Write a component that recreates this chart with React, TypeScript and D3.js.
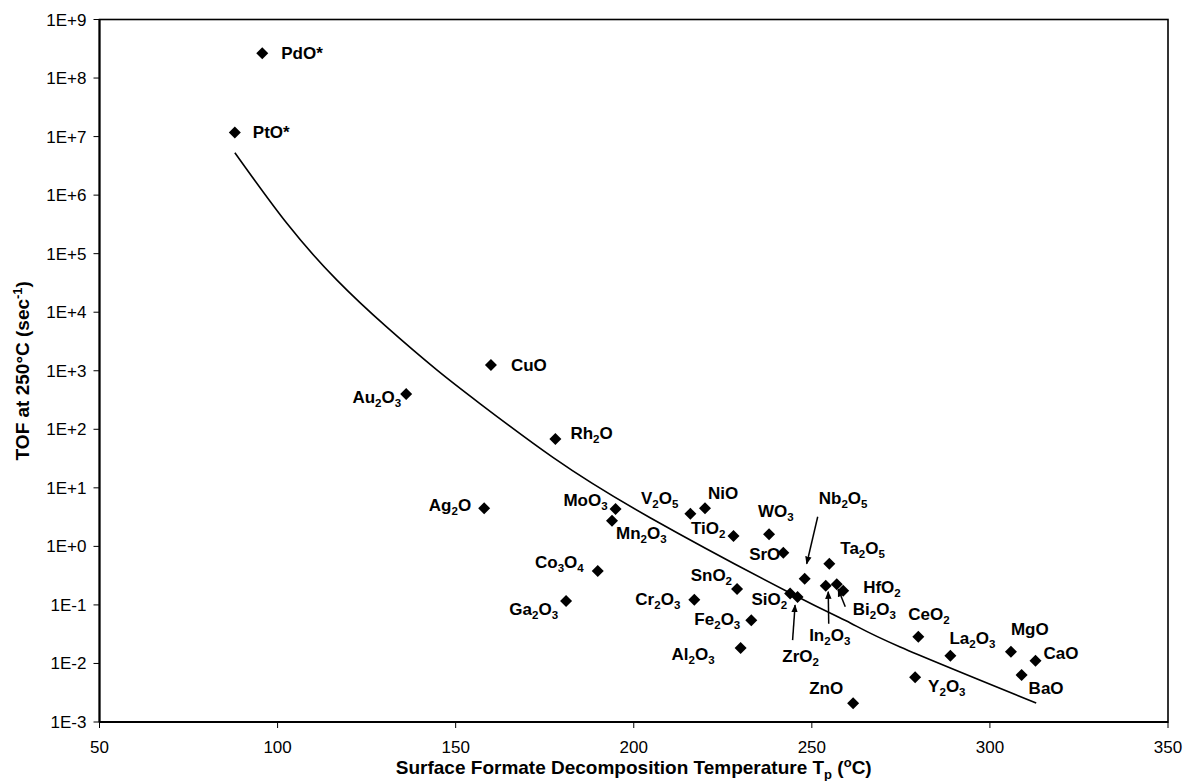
import React from "react";
import * as d3 from "d3";

// ---- data ----
const oxides = [
  "PdO*", "PtO*", "CuO", "Au_2O_3", "Rh_2O", "Ag_2O", "MoO_3", "Mn_2O_3", "Co_3O_4", "Ga_2O_3",
  "V_2O_5", "NiO", "TiO_2", "WO_3", "SrO", "Ta_2O_5", "Nb_2O_5", "SnO_2", "Cr_2O_3", "SiO_2",
  "ZrO_2", "In_2O_3", "Bi_2O_3", "HfO_2", "Fe_2O_3", "Al_2O_3", "CeO_2", "La_2O_3", "MgO", "CaO",
  "BaO", "Y_2O_3", "ZnO",
];
const tempTp = [
  95.7, 88.0, 159.9, 136.1, 178.0, 158.0, 194.9, 193.9, 189.9, 181.0,
  215.9, 220.0, 228.0, 238.0, 242.0, 254.9, 248.0, 229.0, 217.0, 243.9,
  246.0, 253.9, 257.0, 258.8, 233.0, 230.0, 279.9, 288.9, 305.9, 312.8,
  308.9, 279.0, 261.6,
];
const tof = [
  2.65e8, 1.18e7, 1250, 400, 68, 4.5, 4.35, 2.75, 0.38, 0.117,
  3.6, 4.48, 1.5, 1.61, 0.78, 0.506, 0.28, 0.187, 0.123, 0.156,
  0.136, 0.213, 0.225, 0.175, 0.0546, 0.0184, 0.0286, 0.0136, 0.0159, 0.0111,
  0.00635, 0.0058, 0.0021,
];
// trend line, points
const trendTemp = [88.0, 102.6, 116.6, 130.6, 144.7, 156.8, 177.3, 204.6, 243.9, 260.8, 274.8, 313.0];
const trendTof = [5.31e6, 3.3e5, 3.56e4, 5600, 1033, 275, 33.1, 3.09, 0.16, 0.0491, 0.0191, 0.00211];

const xTicks = [50, 100, 150, 200, 250, 300, 350];
const yTickExp = [9, 8, 7, 6, 5, 4, 3, 2, 1, 0, -1, -2, -3];

// ---- label layout (pixel offsets from each marker) ----
type Lay = { dx: number; dy: number; a: "start" | "end" | "middle"; arrow?: [number, number, number, number] };
const layout: Record<string, Lay> = {
  "PdO*": { dx: 19, dy: 0, a: "start" },
  "PtO*": { dx: 18, dy: 0, a: "start" },
  "CuO": { dx: 20, dy: 0, a: "start" },
  "Au_2O_3": { dx: -5, dy: 3, a: "end" },
  "Rh_2O": { dx: 15, dy: -6, a: "start" },
  "Ag_2O": { dx: -13, dy: -3, a: "end" },
  "MoO_3": { dx: -8, dy: -9, a: "end" },
  "Mn_2O_3": { dx: 4, dy: 12, a: "start" },
  "Co_3O_4": { dx: -14, dy: -9, a: "end" },
  "Ga_2O_3": { dx: -8, dy: 8, a: "end" },
  "V_2O_5": { dx: -12, dy: -16, a: "end" },
  "NiO": { dx: 3, dy: -15, a: "start" },
  "TiO_2": { dx: -8, dy: -8, a: "end" },
  "WO_3": { dx: -11, dy: -23, a: "start" },
  "SrO": { dx: -3, dy: 1, a: "end" },
  "Ta_2O_5": { dx: 11, dy: -16, a: "start" },
  "Nb_2O_5": { dx: 14, dy: -81, a: "start", arrow: [13, -62, 2, -15] },
  "SnO_2": { dx: -5, dy: -14, a: "end" },
  "Cr_2O_3": { dx: -14, dy: -1, a: "end" },
  "SiO_2": { dx: -3, dy: 5, a: "end" },
  "ZrO_2": { dx: 3, dy: 59, a: "middle", arrow: [-5, 43, -2.5, 8] },
  "In_2O_3": { dx: 4, dy: 49, a: "middle", arrow: [3, 38, 2.5, 6] },
  "Bi_2O_3": { dx: 16, dy: 25, a: "start", arrow: [8.5, 22.5, 1.5, 5] },
  "HfO_2": { dx: 20, dy: -4, a: "start" },
  "Fe_2O_3": { dx: -11, dy: -1, a: "end" },
  "Al_2O_3": { dx: -26, dy: 6, a: "end" },
  "CeO_2": { dx: -10, dy: -23, a: "start" },
  "La_2O_3": { dx: -1, dy: -18, a: "start" },
  "MgO": { dx: 0, dy: -23, a: "start" },
  "CaO": { dx: 8, dy: -8, a: "start" },
  "BaO": { dx: 7, dy: 13, a: "start" },
  "Y_2O_3": { dx: 13, dy: 9, a: "start" },
  "ZnO": { dx: -10, dy: -15, a: "end" },
};

const FONT = "'Liberation Sans', Arial, Helvetica, sans-serif";
const W = 1185;
const H = 781;
const m = { left: 99.5, right: 1168, top: 19.5, bottom: 722 };

function Chem({ s, size }: { s: string; size: number }) {
  const parts: React.ReactNode[] = [];
  let buf = "";
  let sub = false;
  let key = 0;
  const sh = Math.round(size * 0.25);
  for (let i = 0; i < s.length; i++) {
    if (s[i] === "_") {
      if (buf) {
        parts.push(
          <tspan key={key++} dy={sub ? -sh : 0}>
            {buf}
          </tspan>
        );
        buf = "";
        sub = false;
      }
      parts.push(
        <tspan key={key++} dy={sh} fontSize={size * 0.68}>
          {s[i + 1]}
        </tspan>
      );
      sub = true;
      i++;
    } else {
      buf += s[i];
    }
  }
  if (buf) {
    parts.push(
      <tspan key={key++} dy={sub ? -sh : 0}>
        {buf}
      </tspan>
    );
  }
  return <>{parts}</>;
}

export default function App() {
  const x = d3.scaleLinear().domain([50, 350]).range([m.left, m.right]);
  const y = d3.scaleLog().domain([1e-3, 1e9]).range([m.bottom, m.top]);

  const line = d3
    .line<number>()
    .x((_, i) => x(trendTemp[i]))
    .y((v) => y(v))
    .curve(d3.curveNatural);

  const diamond = "M0,-6L6,0L0,6L-6,0Z";
  const fs = 17;

  return (
    <svg width={W} height={H} style={{ position: "absolute", left: 0, top: 0, background: "#fff" }} fontFamily={FONT}>
      <defs>
        <marker id="ah" viewBox="0 0 10 10" refX="9" refY="5" markerWidth="8" markerHeight="8" orient="auto" markerUnits="userSpaceOnUse">
          <path d="M0,1L10,5L0,9Z" fill="#000" />
        </marker>
      </defs>
      <rect x={0} y={0} width={W} height={H} fill="#fff" />

      {/* frame */}
      <rect x={m.left} y={m.top} width={m.right - m.left} height={m.bottom - m.top} fill="none" stroke="#000" strokeWidth={1.6} />
      <line x1={m.left} x2={m.left} y1={m.top} y2={m.bottom} stroke="#000" strokeWidth={2} />
      <line x1={m.left} x2={m.right} y1={m.bottom} y2={m.bottom} stroke="#000" strokeWidth={2} />

      {/* y ticks */}
      {yTickExp.map((e) => {
        const yy = y(Math.pow(10, e));
        const lab = e >= 0 ? `1E+${e}` : `1E${e}`;
        return (
          <g key={e}>
            <line x1={m.left - 6} x2={m.left} y1={yy} y2={yy} stroke="#000" strokeWidth={1} />
            <text x={m.left - 13} y={yy + 6} textAnchor="end" fontSize={fs}>
              {lab}
            </text>
          </g>
        );
      })}

      {/* x ticks */}
      {xTicks.map((t) => (
        <g key={t}>
          <line x1={x(t)} x2={x(t)} y1={m.bottom} y2={m.bottom + 6} stroke="#000" strokeWidth={1} />
          <text x={x(t)} y={m.bottom + 31} textAnchor="middle" fontSize={fs}>
            {t}
          </text>
        </g>
      ))}

      {/* trend line */}
      <path d={line(trendTof) || ""} fill="none" stroke="#000" strokeWidth={1.6} />

      {/* markers */}
      {oxides.map((n, i) => (
        <path key={n} d={diamond} transform={`translate(${x(tempTp[i])},${y(tof[i])})`} fill="#000" />
      ))}

      {/* arrows */}
      {oxides.map((n, i) => {
        const L = layout[n];
        if (!L || !L.arrow) return null;
        const px = x(tempTp[i]);
        const py = y(tof[i]);
        const [ax1, ay1, ax2, ay2] = L.arrow;
        return (
          <line key={"a" + n} x1={px + ax1} y1={py + ay1} x2={px + ax2} y2={py + ay2} stroke="#000" strokeWidth={1.5} markerEnd="url(#ah)" />
        );
      })}

      {/* labels */}
      {oxides.map((n, i) => {
        const L = layout[n];
        const px = x(tempTp[i]);
        const py = y(tof[i]);
        return (
          <text key={"l" + n} x={px + L.dx} y={py + L.dy + 6} textAnchor={L.a} fontSize={fs} fontWeight="bold">
            <Chem s={n} size={fs} />
          </text>
        );
      })}

      {/* axis titles */}
      <text x={(m.left + m.right) / 2} y={774} textAnchor="middle" fontSize={19} fontWeight="bold">
        Surface Formate Decomposition Temperature T
        <tspan dy={5} fontSize={13}>p</tspan>
        <tspan dy={-5}> (</tspan>
        <tspan dy={-7} fontSize={13}>o</tspan>
        <tspan dy={7}>C)</tspan>
      </text>
      <text transform={`translate(29,${(m.top + m.bottom) / 2}) rotate(-90)`} textAnchor="middle" fontSize={19} fontWeight="bold">
        TOF at 250°C (sec
        <tspan dy={-7} fontSize={13}>-1</tspan>
        <tspan dy={7}>)</tspan>
      </text>
    </svg>
  );
}
